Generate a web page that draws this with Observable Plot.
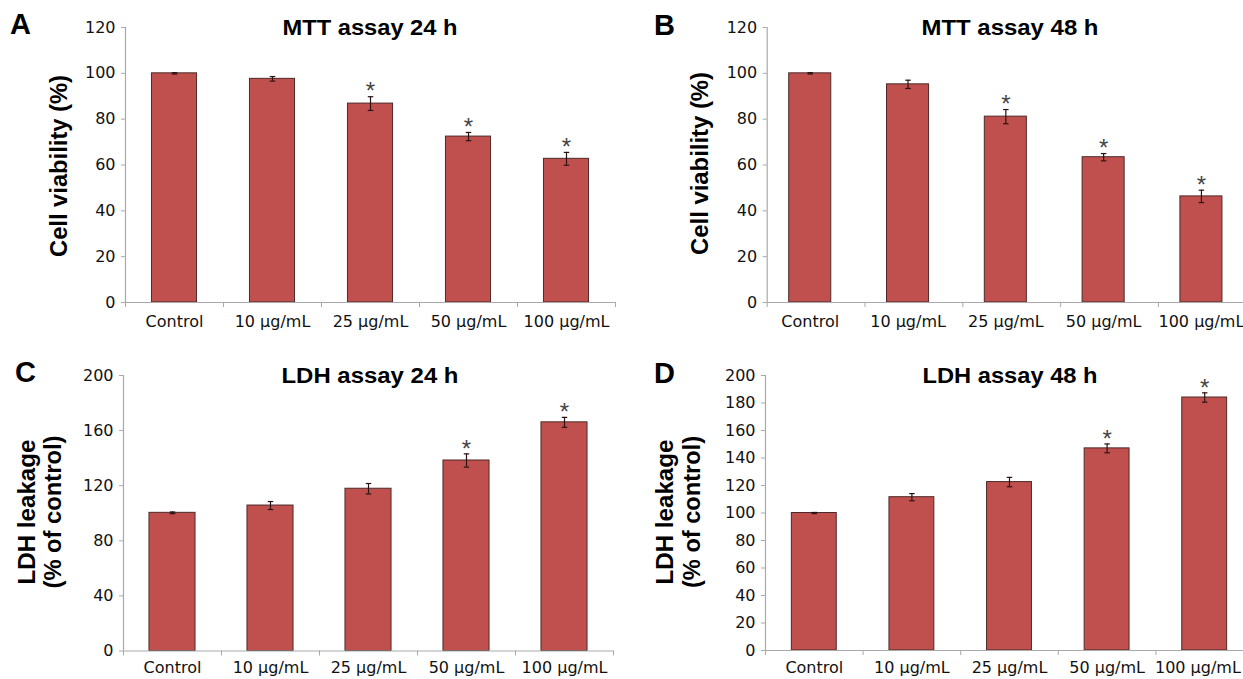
<!DOCTYPE html>
<html><head><meta charset="utf-8">
<script src="https://cdn.jsdelivr.net/npm/d3@7"></script>
<script src="https://cdn.jsdelivr.net/npm/@observablehq/plot@0.6"></script>
<style>
html,body{margin:0;padding:0;background:#fff;overflow:hidden;}
#wrap{position:relative;width:1243px;height:679px;overflow:hidden;background:#fff;}
.panel{position:absolute;}
.panel svg{display:block;max-width:none !important;}
#overlay{position:absolute;left:0;top:0;pointer-events:none;}
</style></head><body><div id="wrap"></div>
<script>
// ---- data ----
const categories = ["Control", "10 µg/mL", "25 µg/mL", "50 µg/mL", "100 µg/mL"];

const mtt24    = [100, 97.6, 86.8, 72.4, 62.7];
const mtt24Err = [0.3, 1.0, 3.0, 1.8, 2.8];
const mtt24Sig = [false, false, true, true, true];

const mtt48    = [100, 95.2, 81.1, 63.4, 46.3];
const mtt48Err = [0.3, 1.8, 3.1, 1.6, 2.7];
const mtt48Sig = [false, false, true, true, true];

const ldh24    = [100.3, 105.6, 117.8, 138.3, 166.0];
const ldh24Err = [0.6, 2.9, 3.8, 4.8, 3.6];
const ldh24Sig = [false, false, false, true, true];

const ldh48    = [100, 111.5, 122.5, 147, 184];
const ldh48Err = [0.4, 2.6, 3.4, 3.2, 3.4];
const ldh48Sig = [false, false, false, true, true];

const yTicksMTT   = [0, 20, 40, 60, 80, 100, 120];
const yTicksLDH24 = [0, 40, 80, 120, 160, 200];
const yTicksLDH48 = [0, 20, 40, 60, 80, 100, 120, 140, 160, 180, 200];

const panelLetters = ["A", "B", "C", "D"];
const panelTitles  = ["MTT assay 24 h", "MTT assay 48 h", "LDH assay 24 h", "LDH assay 48 h"];
const yLabelMTT = ["Cell viability (%)"];
const yLabelLDH = ["LDH leakage", "(% of control)"];

// ---- layout ----
const panels = [
  {values: mtt24, errs: mtt24Err, sig: mtt24Sig, yMax: 120, ticks: yTicksMTT,
   left: 0, top: 0, width: 621, height: 340, mL: 125, mT: 27, mB: 38, mR: 6, bw: 0.46, xOff: 13, shift: 0, lastShift: 0,
   letter: {x: 10, y: 34}, title: {x: 370, y: 35, w: 175}, ylab: yLabelMTT, yl: [{x: 67, y: 166, w: 182}]},
  {values: mtt48, errs: mtt48Err, sig: mtt48Sig, yMax: 120, ticks: yTicksMTT,
   left: 621, top: 0, width: 640, height: 340, mL: 145.7, mT: 27, mB: 38, mR: 5.3, bw: 0.43, xOff: 13, shift: -0.06, lastShift: 0,
   letter: {x: 654, y: 35}, title: {x: 1010, y: 35, w: 177}, ylab: yLabelMTT, yl: [{x: 708, y: 163.5, w: 183}]},
  {values: ldh24, errs: ldh24Err, sig: ldh24Sig, yMax: 200, ticks: yTicksLDH24,
   left: 0, top: 340, width: 621, height: 339, mL: 123, mT: 35, mB: 28.5, mR: 8, bw: 0.47, xOff: 11, shift: 0, lastShift: 0,
   letter: {x: 15, y: 382}, title: {x: 370, y: 383, w: 177}, ylab: yLabelLDH,
   yl: [{x: 35, y: 512, w: 145}, {x: 61, y: 512, w: 153}]},
  {values: ldh48, errs: ldh48Err, sig: ldh48Sig, yMax: 200, ticks: yTicksLDH48,
   left: 621, top: 340, width: 640, height: 339, mL: 144, mT: 35, mB: 29, mR: 8, bw: 0.46, xOff: 11.5, shift: 0, lastShift: -0.07,
   letter: {x: 654, y: 383}, title: {x: 1010, y: 383, w: 175}, ylab: yLabelLDH,
   yl: [{x: 673, y: 512, w: 145}, {x: 700, y: 512, w: 152}]}
];

const wrap = document.getElementById("wrap");
const axisGray = "#a9a9a9";
const barFill = "#c0504d";
const barStroke = "#4d2a29";
const errColor = "#2a1212";

panels.forEach(p => {
  const s = p.shift;
  const data = categories.map((c, i) => ({i, x: i + s, c, v: p.values[i], e: p.errs[i], s: p.sig[i]}));
  const half = p.bw / 2, cap = 0.028;
  const labelTicks = categories.map((c, i) => i + s + (i === categories.length - 1 ? p.lastShift : 0));
  const chart = Plot.plot({
    width: p.width, height: p.height,
    marginLeft: p.mL, marginTop: p.mT, marginBottom: p.mB, marginRight: p.mR,
    style: {fontFamily: "'DejaVu Sans', sans-serif", fontSize: "16px", color: "#111", background: "transparent",
      overflow: "visible", maxWidth: "none"},
    x: {domain: [-0.5, 4.5]},
    y: {domain: [0, p.yMax]},
    marks: [
      Plot.ruleX([-0.5], {stroke: axisGray, strokeWidth: 1.2}),
      Plot.rectY(data, {x1: d => d.x - half, x2: d => d.x + half, y: "v", fill: barFill, stroke: barStroke, strokeWidth: 1}),
      Plot.ruleY([0], {stroke: axisGray, strokeWidth: 1.2}),
      Plot.ruleX(data, {x: "x", y1: d => d.v - d.e, y2: d => d.v + d.e, stroke: errColor, strokeWidth: 1.2}),
      Plot.link(data, {x1: d => d.x - cap, x2: d => d.x + cap, y1: d => d.v + d.e, y2: d => d.v + d.e, stroke: errColor, strokeWidth: 1.2}),
      Plot.link(data, {x1: d => d.x - cap, x2: d => d.x + cap, y1: d => d.v - d.e, y2: d => d.v - d.e, stroke: errColor, strokeWidth: 1.2}),
      Plot.text(data.filter(d => d.s), {x: "x", y: d => d.v + d.e, text: () => "*", fontSize: 24,
        fontFamily: "'Liberation Sans', Arial, sans-serif", fill: "#444", lineAnchor: "middle", dy: -5}),
      Plot.axisY({ticks: p.ticks, tickSize: 4, tickPadding: 6, stroke: axisGray, fill: "#111", label: null, tickFormat: d => String(d)}),
      Plot.axisX({ticks: [-0.5, 0.5, 1.5, 2.5, 3.5, 4.5], tickSize: 5, tickFormat: () => "", stroke: axisGray, label: null}),
      Plot.axisX({ticks: labelTicks, tickSize: 0, tickPadding: p.xOff, tickFormat: t => categories[Math.round(t - s)], fill: "#111", label: null})
    ]
  });
  chart.style.maxWidth = "none";
  const div = document.createElement("div");
  div.className = "panel";
  div.style.left = p.left + "px";
  div.style.top = p.top + "px";
  div.style.width = p.width + "px";
  div.appendChild(chart);
  wrap.appendChild(div);
});

// ---- annotations: panel letters, titles, y-axis labels ----
const ov = d3.select("#wrap").append("svg").attr("id", "overlay").attr("width", 1243).attr("height", 679);
const boldFont = "'Liberation Sans', Arial, sans-serif";
panels.forEach((p, k) => {
  ov.append("text").attr("x", p.letter.x).attr("y", p.letter.y)
    .attr("font-family", boldFont).attr("font-weight", "bold").attr("font-size", 29).attr("fill", "#000")
    .text(panelLetters[k]);
  ov.append("text").attr("x", p.title.x).attr("y", p.title.y).attr("text-anchor", "middle")
    .attr("font-family", boldFont).attr("font-weight", "bold").attr("font-size", 22).attr("fill", "#000")
    .attr("textLength", p.title.w).attr("lengthAdjust", "spacingAndGlyphs")
    .text(panelTitles[k]);
  p.ylab.forEach((line, j) => {
    const pos = p.yl[j];
    ov.append("text").attr("transform", `translate(${pos.x},${pos.y}) rotate(-90)`).attr("text-anchor", "middle")
      .attr("font-family", boldFont).attr("font-weight", "bold").attr("font-size", 23).attr("fill", "#000")
      .attr("textLength", pos.w).attr("lengthAdjust", "spacingAndGlyphs")
      .text(line);
  });
});
</script></body></html>
